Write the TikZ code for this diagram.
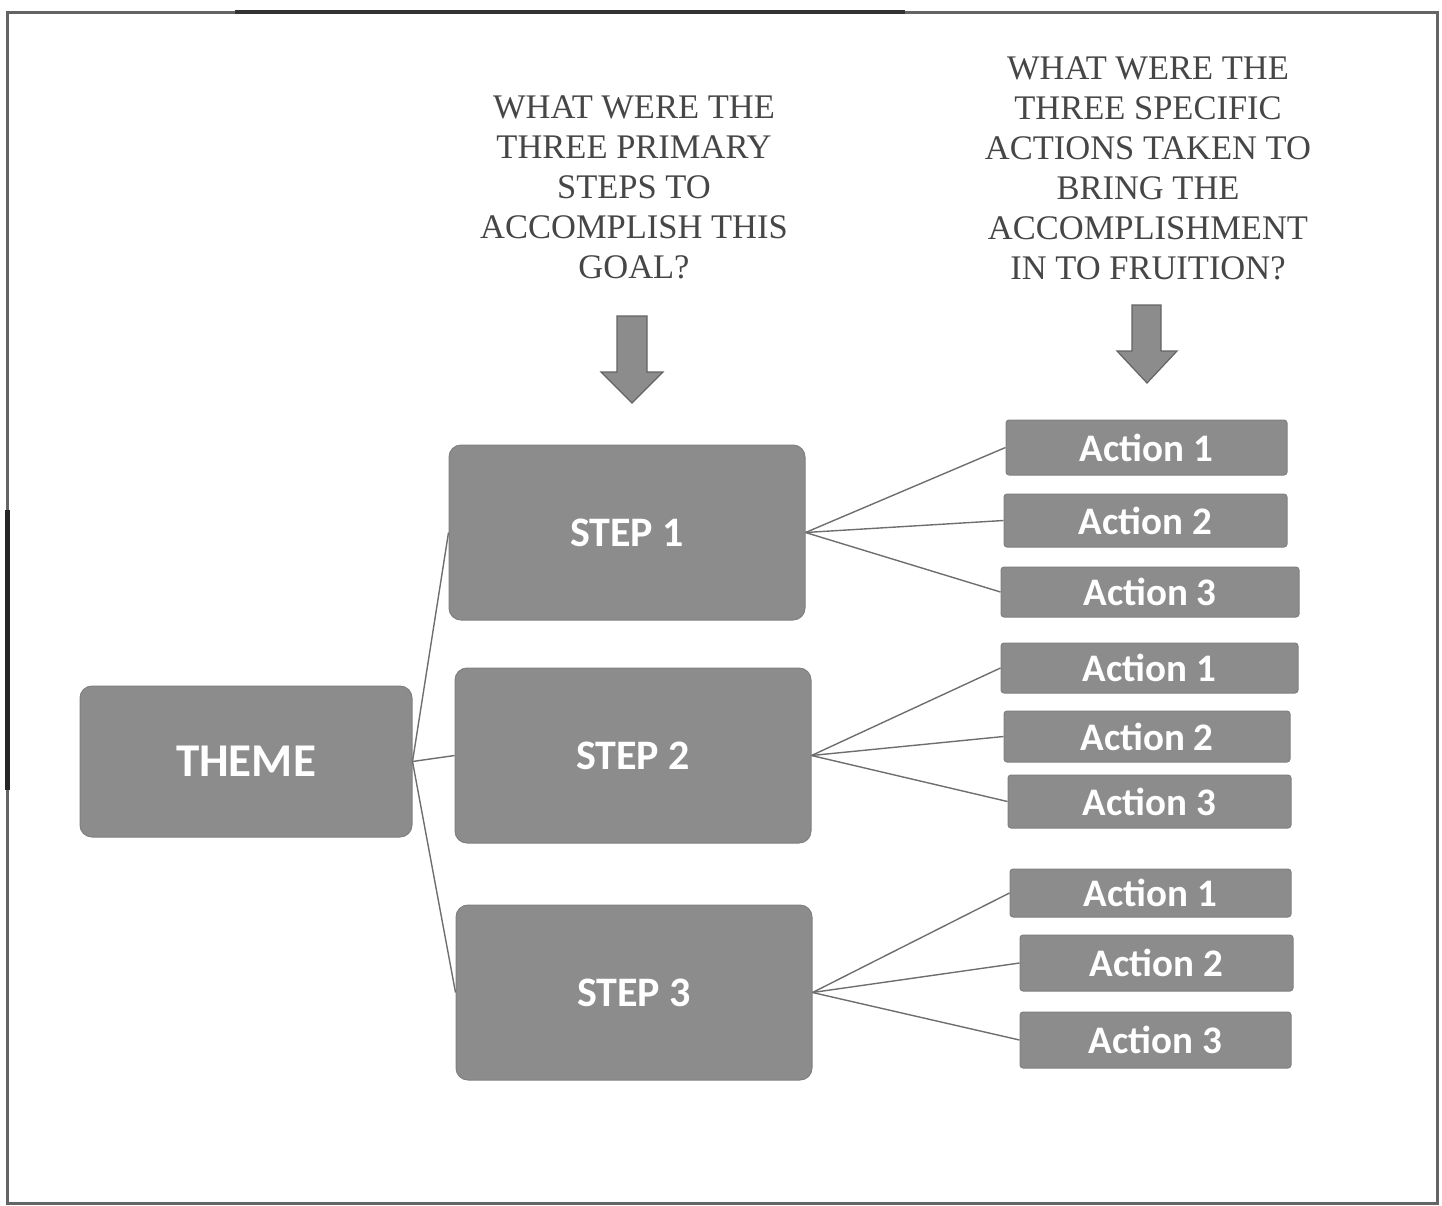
\documentclass[tikz,border=0pt]{standalone}
\usepackage{fontspec}
\setmainfont{Liberation Serif}
\newfontfamily\boxfont{Carlito}
\definecolor{boxgray}{RGB}{140,140,140}
\definecolor{boxedge}{RGB}{128,128,128}
\definecolor{linegray}{RGB}{110,110,110}
\definecolor{qgray}{RGB}{70,70,70}
\definecolor{framegray}{RGB}{100,100,100}
\begin{document}
\begin{tikzpicture}[x=1pt,y=-1pt,
  bigbox/.style={fill=boxgray, draw=boxedge, line width=1pt, rounded corners=12pt,
    text=white, inner sep=0pt, font=\boxfont\bfseries\fontsize{42}{48}\selectfont},
  actbox/.style={fill=boxgray, draw=boxedge, line width=1pt, rounded corners=3pt,
    text=white, inner sep=0pt, font=\boxfont\bfseries\fontsize{39}{44}\selectfont},
  conn/.style={draw=linegray, line width=1.4pt},
  question/.style={align=center, text=qgray, inner sep=0pt, font=\fontsize{34.5}{40}\selectfont},
  blockarrow/.style={fill=boxgray, draw=framegray, line width=1.2pt, line join=miter}]
\useasboundingbox (0,0) rectangle (1442,1205);
% frame
\draw[framegray, line width=3pt] (7,12) rectangle (1437,1203);
\draw[black!80, line width=4pt] (235,12) -- (905,12);
\draw[black!85, line width=5pt] (7,510) -- (7,790);

% questions
\node[question] (q1) at (634,187) {WHAT WERE THE\\THREE PRIMARY\\STEPS TO\\ACCOMPLISH THIS\\GOAL?};
\node[question] (q2) at (1148,168) {WHAT WERE THE\\THREE SPECIFIC\\ACTIONS TAKEN TO\\BRING THE\\ACCOMPLISHMENT\\IN TO FRUITION?};

% block arrows
\draw[blockarrow] (617,316) -- (647,316) -- (647,372) -- (663,372) -- (632,403) -- (601,372) -- (617,372) -- cycle;
\draw[blockarrow] (1132,305) -- (1161,305) -- (1161,351) -- (1177,351) -- (1147,383) -- (1117,351) -- (1132,351) -- cycle;

% main boxes
\node[bigbox, minimum width=332pt, minimum height=151pt, font=\boxfont\bfseries\fontsize{47}{52}\selectfont] (theme) at (246,761.5) {THEME};
\node[bigbox, minimum width=356pt, minimum height=175pt] (s1) at (627,532.5) {STEP 1};
\node[bigbox, minimum width=356pt, minimum height=175pt] (s2) at (633,755.5) {STEP 2};
\node[bigbox, minimum width=356pt, minimum height=175pt] (s3) at (634,992.5) {STEP 3};

% actions
\node[actbox, minimum width=281pt, minimum height=55pt] (s1a1) at (1146.5,447.5) {Action 1};
\node[actbox, minimum width=283pt, minimum height=53pt] (s1a2) at (1145.5,520.5) {Action 2};
\node[actbox, minimum width=298pt, minimum height=50pt] (s1a3) at (1150,592) {Action 3};
\node[actbox, minimum width=297pt, minimum height=50pt] (s2a1) at (1149.5,668) {Action 1};
\node[actbox, minimum width=286pt, minimum height=51pt] (s2a2) at (1147,736.5) {Action 2};
\node[actbox, minimum width=283pt, minimum height=53pt] (s2a3) at (1149.5,801.5) {Action 3};
\node[actbox, minimum width=281pt, minimum height=48pt] (s3a1) at (1150.5,893) {Action 1};
\node[actbox, minimum width=273pt, minimum height=56pt] (s3a2) at (1156.5,963) {Action 2};
\node[actbox, minimum width=271pt, minimum height=56pt] (s3a3) at (1155.5,1040) {Action 3};

% connectors
\draw[conn] (theme.east) -- (s1.west);
\draw[conn] (theme.east) -- (s2.west);
\draw[conn] (theme.east) -- (s3.west);
\foreach \s in {1,2,3}{
  \foreach \a in {1,2,3}{
    \draw[conn] (s\s.east) -- (s\s a\a.west);
  }
}
\end{tikzpicture}
\end{document}
